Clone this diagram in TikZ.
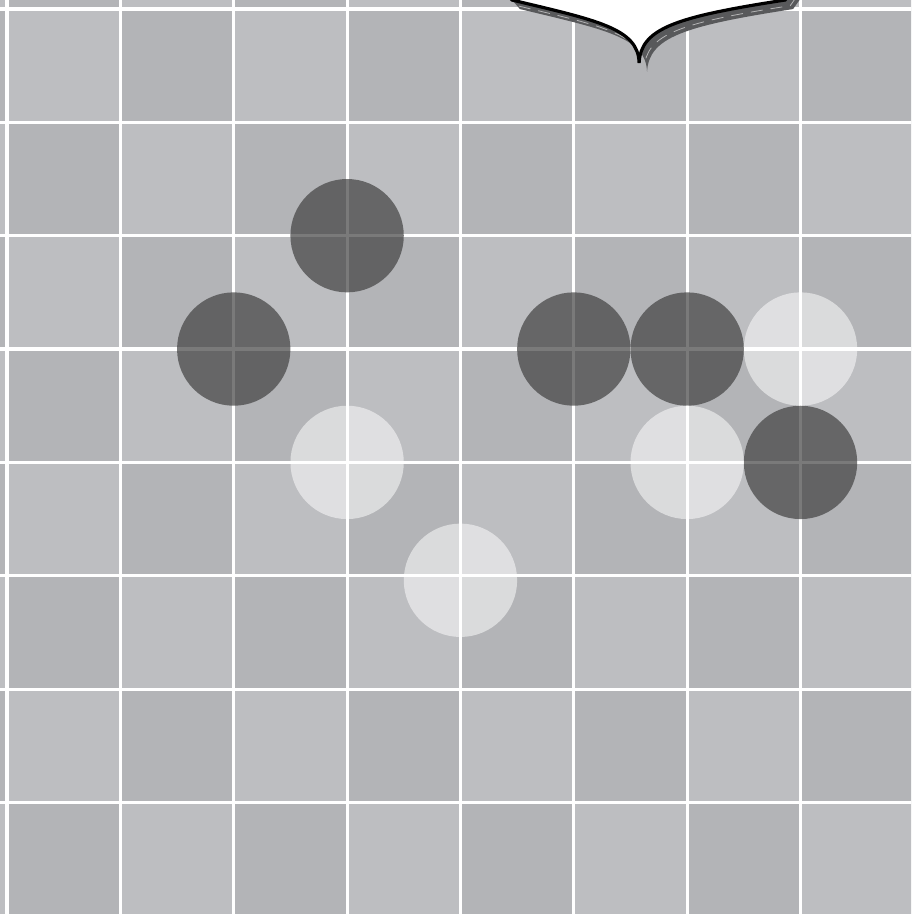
\documentclass[tikz,border=0pt]{standalone}
\usepackage{tikz}

\definecolor{boardlight}{HTML}{BDBEC1}
\definecolor{boarddark}{HTML}{B3B4B7}
\definecolor{stoneblack}{HTML}{424242}
\definecolor{bubbleshade}{HTML}{58595B}

\tikzset{
  gridline/.style={white, line width=.8pt},
  blackstone/.style={fill=stoneblack, fill opacity=.7},
  whitestone/.style={fill=white, fill opacity=.52}
}
\newcommand{\bubbleedge}{(4.35,0.2) -- (4.455,0.079) .. controls (5.2,-0.1) and (5.57,-0.17) .. (5.576,-0.476) .. controls (5.59,-0.17) and (5.9,-0.07) .. (6.864,0.079) -- (6.95,0.2)}

\begin{document}
\begin{tikzpicture}
\useasboundingbox (-0.062,-7.984) rectangle (7.975,0.079);
\clip (-0.062,-7.984) rectangle (7.975,0.079);
% board squares
\foreach \i in {-1,...,7}
  \foreach \j in {-8,...,0} {
    \pgfmathtruncatemacro{\sqpar}{mod(\i+\j+20,2)}
    \ifodd\sqpar \fill[boardlight] (\i,\j) rectangle ++(1,1);
    \else \fill[boarddark] (\i,\j) rectangle ++(1,1); \fi
  }
% grid lines
\foreach \k in {0,...,7} {
  \draw[gridline] (\k,0.3) -- (\k,-8.2);
  \draw[gridline] (-0.3,-\k) -- (8.2,-\k);
}
% black stones
\fill[blackstone] (3,-2) circle (0.5);
\fill[blackstone] (2,-3) circle (0.5);
\fill[blackstone] (5,-3) circle (0.5);
\fill[blackstone] (6,-3) circle (0.5);
\fill[blackstone] (7,-4) circle (0.5);
% white stones
\fill[whitestone] (7,-3) circle (0.5);
\fill[whitestone] (3,-4) circle (0.5);
\fill[whitestone] (6,-4) circle (0.5);
\fill[whitestone] (4,-5.04) circle (0.5);
% speech bubble with shadow
\fill[bubbleshade, shift={(0.07,-0.08)}] \bubbleedge -- (6.95,0.6) -- (4.35,0.6) -- cycle;
\draw[white!55!bubbleshade, densely dashed, line width=.2pt, shift={(0.045,-0.05)}] \bubbleedge;
\filldraw[fill=white, draw=black, line width=.8pt] \bubbleedge -- (6.95,0.6) -- (4.35,0.6) -- cycle;
\end{tikzpicture}
\end{document}
